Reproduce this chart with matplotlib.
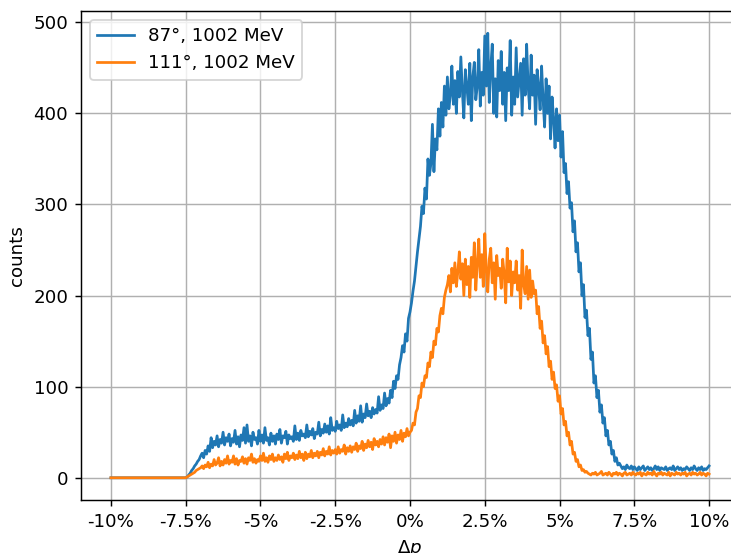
import numpy as np
import matplotlib
matplotlib.use("Agg")
import matplotlib.pyplot as plt
from matplotlib.ticker import FuncFormatter

# counts, one value per 0.05 % bin from -10 % to +10 %
counts_87 = [0] * 51 + [
    1, 3, 5, 8, 10, 13, 15, 18, 20, 24,
    27, 22, 30, 26, 35, 29, 44, 33, 40, 36,
    46, 34, 42, 38, 50, 36, 44, 40, 48, 35,
    43, 39, 52, 37, 45, 34, 47, 41, 55, 38,
    58, 40, 46, 35, 50, 42, 44, 37, 52, 40,
    47, 38, 55, 41, 44, 36, 49, 40, 46, 37,
    48, 42, 53, 38, 46, 44, 51, 37, 47, 43,
    45, 40, 57, 42, 49, 41, 52, 46, 48, 44,
    58, 45, 51, 47, 54, 43, 50, 48, 61, 46,
    53, 49, 59, 50, 57, 48, 66, 52, 55, 51,
    62, 54, 58, 52, 69, 55, 60, 56, 65, 58,
    63, 57, 74, 60, 68, 62, 79, 61, 70, 66,
    81, 68, 73, 66, 77, 70, 75, 71, 89, 74,
    80, 76, 93, 79, 87, 82, 96, 88, 106, 98,
    112, 108, 124, 132, 145, 138, 158, 150, 175, 182,
    192, 205, 216, 232, 248, 262, 276, 298, 290, 318,
    306, 350, 332, 345, 388, 336, 372, 360, 405, 375,
    412, 385, 430, 398, 440, 405, 420, 452, 410, 436,
    400, 446, 418, 462, 425, 395, 448, 430, 410, 455,
    392, 440, 456, 415, 430, 470, 408, 445, 420, 485,
    430, 488, 412, 450, 476, 400, 438, 396, 458, 425,
    468, 410, 445, 392, 450, 425, 480, 398, 440, 410,
    472, 418, 436, 455, 398, 460, 420, 476, 430, 405,
    464, 420, 442, 388, 448, 430, 404, 452, 415, 385,
    438, 400, 430, 372, 418, 395, 362, 405, 370, 398,
    352, 380, 335, 345, 312, 325, 296, 302, 270, 282,
    248, 258, 226, 236, 200, 212, 176, 184, 156, 164,
    130, 138, 104, 112, 88, 96, 72, 80, 60, 66,
    46, 52, 36, 40, 26, 30, 18, 22, 14, 16,
    13, 10, 12, 9, 14, 11, 10, 13, 9, 12,
    10, 8, 12, 9, 11, 13, 8, 10, 12, 9,
    11, 8, 10, 13, 9, 12, 8, 11, 10, 9,
    12, 8, 10, 11, 9, 13, 8, 10, 12, 9,
    11, 8, 10, 9, 12, 10, 8, 11, 9, 13,
    10, 8, 11, 9, 12, 8, 10, 9, 11, 13]

counts_111 = [0] * 51 + [
    1, 2, 3, 4, 5, 6, 8, 9, 10, 11,
    13, 10, 14, 12, 17, 11, 15, 13, 20, 14,
    16, 22, 13, 18, 14, 20, 16, 24, 15, 19,
    17, 24, 15, 21, 14, 19, 18, 23, 16, 21,
    15, 22, 19, 26, 17, 21, 16, 20, 18, 24,
    19, 27, 18, 22, 17, 24, 20, 26, 18, 22,
    19, 25, 20, 23, 17, 26, 21, 28, 19, 24,
    22, 27, 20, 25, 21, 29, 22, 26, 19, 28,
    21, 26, 23, 30, 22, 27, 24, 29, 22, 28,
    25, 32, 24, 29, 26, 34, 25, 30, 27, 31,
    26, 34, 27, 31, 29, 36, 26, 33, 29, 35,
    28, 34, 31, 38, 29, 35, 32, 40, 30, 37,
    33, 41, 34, 39, 31, 43, 36, 40, 34, 42,
    37, 45, 36, 44, 39, 48, 33, 46, 40, 50,
    38, 47, 42, 52, 40, 49, 45, 54, 46, 50,
    52, 60, 58, 72, 76, 90, 88, 104, 100, 112,
    110, 126, 122, 138, 132, 150, 146, 164, 160, 178,
    186, 180, 198, 206, 212, 222, 204, 230, 214, 236,
    210, 226, 248, 218, 235, 200, 240, 212, 232, 198,
    242, 220, 258, 206, 236, 262, 220, 245, 210, 268,
    228, 204, 240, 252, 214, 236, 196, 244, 222, 230,
    208, 240, 224, 192, 252, 215, 238, 200, 226, 214,
    238, 206, 222, 186, 250, 212, 202, 232, 196, 228,
    198, 216, 202, 206, 180, 188, 164, 172, 148, 156,
    136, 144, 122, 128, 108, 116, 98, 102, 84, 90,
    70, 76, 58, 62, 46, 50, 36, 40, 26, 28,
    18, 20, 12, 14, 8, 9, 6, 7, 5, 4,
    3, 5, 4, 6, 3, 4, 5, 7, 3, 4,
    5, 3, 6, 4, 2, 5, 4, 6, 3, 5,
    4, 2, 5, 6, 3, 4, 5, 3, 6, 4,
    3, 5, 4, 6, 2, 5, 4, 3, 6, 4,
    5, 3, 7, 4, 2, 5, 4, 6, 3, 5,
    4, 3, 6, 2, 5, 4, 3, 6, 4, 5,
    3, 5, 4, 6, 2, 4, 5, 3, 6, 4,
    5, 3, 4, 6, 3, 5, 4, 2, 5, 4]

labels = ["87°, 1002 MeV", "111°, 1002 MeV"]
xticks = [-10, -7.5, -5, -2.5, 0, 2.5, 5, 7.5, 10]

dp_87 = np.linspace(-10, 10, len(counts_87))
dp_111 = np.linspace(-10, 10, len(counts_111))

DPI = 131
fig = plt.figure(figsize=(731 / DPI, 553 / DPI), dpi=DPI)
ax = fig.add_axes([81 / 731, 53 / 553, 658 / 731, 489 / 553])

ax.plot(dp_87, counts_87, label=labels[0])
ax.plot(dp_111, counts_111, label=labels[1])

ax.set_xlim(-11, 11)
ax.set_ylim(-24.4, 512.4)
ax.set_xticks(xticks)
ax.xaxis.set_major_formatter(FuncFormatter(lambda v, p: "{:g}%".format(v)))
ax.set_xlabel(r"$\Delta p$")
ax.set_ylabel("counts")
ax.grid(True)
ax.legend(loc="upper left")

fig.savefig("out.png", dpi=DPI)
